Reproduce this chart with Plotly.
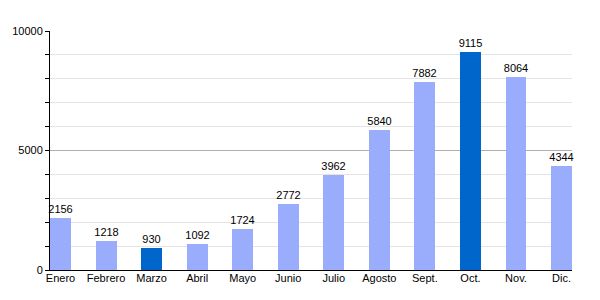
import plotly.graph_objects as go

months = ["Enero", "Febrero", "Marzo", "Abril", "Mayo", "Junio", "Julio",
          "Agosto", "Sept.", "Oct.", "Nov.", "Dic."]
values = [2156, 1218, 930, 1092, 1724, 2772, 3962, 5840, 7882, 9115, 8064, 4344]
highlight = ["Marzo", "Oct."]
ytick_vals = [0, 5000, 10000]
ytick_text = ["0", "5000", "10000"]

light = "#9aacfc"
dark = "#0066cc"
colors = [dark if m in highlight else light for m in months]

fig = go.Figure(go.Bar(
    x=list(range(len(months))), y=values,
    marker=dict(color=colors, line=dict(width=0)),
    width=0.46,
    text=[str(v) for v in values], textposition="outside",
    textangle=0, constraintext="none",
    textfont=dict(family="Liberation Sans, Arial, sans-serif", size=11, color="#000"),
    cliponaxis=False,
))

fig.update_layout(
    width=600, height=300,
    margin=dict(l=50, r=28, t=31, b=30),
    paper_bgcolor="white", plot_bgcolor="white",
    showlegend=False,
    font=dict(family="Liberation Sans, Arial, sans-serif", size=11, color="#000"),
    bargap=0,
)
fig.update_xaxes(
    tickmode="array", tickvals=list(range(len(months))), ticktext=months,
    range=[-0.23, 11.23], showgrid=False,
    showline=True, linecolor="#000", linewidth=1,
    ticks="", tickfont=dict(size=11, color="#000"), ticklen=0,
    ticklabelstandoff=-2,
)
fig.update_yaxes(
    range=[0, 10000], tickmode="array", tickvals=ytick_vals, ticktext=ytick_text,
    showgrid=True, gridcolor="#b0b0b0", gridwidth=1,
    showline=True, linecolor="#000", linewidth=1,
    ticks="outside", ticklen=4, tickcolor="#000",
    zeroline=False, tickfont=dict(size=11, color="#000"),
    minor=dict(dtick=1000, showgrid=True, gridcolor="#e4e4e4",
               ticks="outside", ticklen=4, tickcolor="#000"),
)

fig.write_html("out.html")
